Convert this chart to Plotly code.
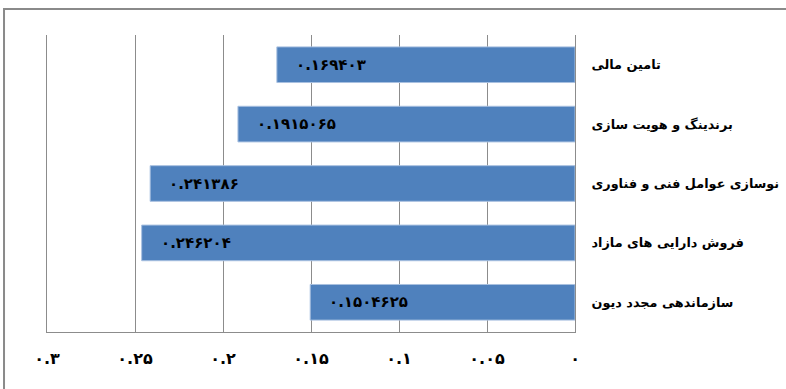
import plotly.graph_objects as go

# Strategies and their scores (top to bottom)
categories = [
    "تامین مالی",
    "برندینگ و هویت سازی",
    "نوسازی عوامل فنی و فناوری",
    "فروش دارایی های مازاد",
    "سازماندهی مجدد دیون",
]
values = [0.169403, 0.1915065, 0.241386, 0.246204, 0.1504625]

tick_values = [0, 0.05, 0.1, 0.15, 0.2, 0.25, 0.3]

PERSIAN_DIGITS = str.maketrans("0123456789", "۰۱۲۳۴۵۶۷۸۹")


def to_persian(num):
    text = f"{num:.7f}".rstrip("0").rstrip(".")
    return text.translate(PERSIAN_DIGITS)


tick_text = [to_persian(v) for v in tick_values]

FONT = "DejaVu Sans"
BAR_COLOR = "#4f81bd"
GRID = "#8c8c8c"

fig = go.Figure(
    go.Bar(
        x=values,
        y=categories,
        orientation="h",
        width=0.6,
        marker=dict(color=BAR_COLOR, line=dict(color="#a8c0e0", width=1)),
        hoverinfo="x+y",
    )
)

# value labels near the far end of each bar
for cat, val in zip(categories, values):
    fig.add_annotation(
        x=val,
        y=cat,
        text="<b>" + to_persian(val) + "</b>",
        showarrow=False,
        xanchor="left",
        yanchor="middle",
        xshift=17,
        font=dict(family=FONT, size=15, color="black"),
    )

# outer chart frame
fig.add_shape(
    type="rect",
    xref="paper",
    yref="paper",
    x0=-0.0814,
    x1=1.5,
    y0=-0.5,
    y1=1.0875,
    line=dict(color="#8a8a8a", width=2),
    fillcolor="rgba(0,0,0,0)",
    layer="above",
)

fig.update_layout(
    width=786,
    height=389,
    margin=dict(l=47, r=211, t=35, b=57),
    paper_bgcolor="white",
    plot_bgcolor="white",
    showlegend=False,
    font=dict(family=FONT, color="black"),
    xaxis=dict(
        range=[0.3, 0],
        tickvals=tick_values,
        ticktext=["<b>" + t + "</b>" for t in tick_text],
        tickfont=dict(family=FONT, size=16, color="black"),
        showgrid=True,
        gridcolor=GRID,
        gridwidth=1,
        showline=True,
        linecolor=GRID,
        linewidth=1,
        zeroline=False,
        ticks="",
        ticklabelstandoff=12,
        automargin=False,
    ),
    yaxis=dict(
        side="right",
        categoryorder="array",
        categoryarray=categories[::-1],
        tickvals=categories,
        ticktext=["<b>" + c + "</b>" for c in categories],
        tickfont=dict(family=FONT, size=12.8, color="black"),
        showgrid=False,
        showline=True,
        mirror=True,
        linecolor=GRID,
        linewidth=1,
        ticks="",
        ticklabelstandoff=13,
        automargin=False,
    ),
)

fig.write_html("out.html")
